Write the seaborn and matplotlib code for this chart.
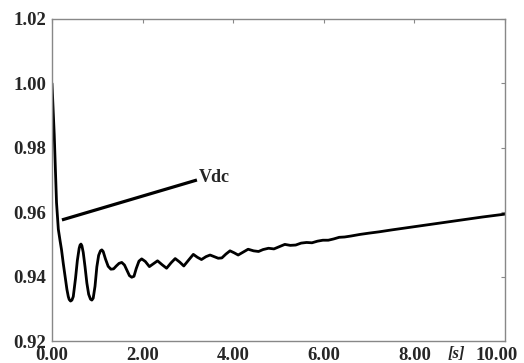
import numpy as np
import pandas as pd
import matplotlib
matplotlib.use("Agg")
import matplotlib.pyplot as plt
import matplotlib.transforms as mtransforms
import seaborn as sns

# Vdc response (time in s, per-unit voltage)
time_s = [0.00, 0.05, 0.10, 0.14, 0.18, 0.21, 0.25, 0.29, 0.33, 0.36,
          0.38, 0.41, 0.44, 0.47, 0.52, 0.56, 0.60, 0.62, 0.64, 0.66,
          0.69, 0.73, 0.77, 0.81, 0.85, 0.88, 0.91, 0.95, 0.99, 1.03,
          1.07, 1.10, 1.13, 1.18, 1.24, 1.30, 1.36, 1.42, 1.48, 1.54,
          1.60, 1.66, 1.71, 1.76, 1.81, 1.86, 1.92, 1.98, 2.06, 2.15,
          2.24, 2.33, 2.43, 2.53, 2.63, 2.72, 2.82, 2.91, 3.02, 3.12,
          3.21, 3.30, 3.40, 3.49, 3.58, 3.67, 3.75, 3.84, 3.93, 4.02,
          4.11, 4.22, 4.33, 4.45, 4.56, 4.66, 4.78, 4.90, 5.02, 5.14,
          5.26, 5.38, 5.50, 5.62, 5.74, 5.86, 5.98, 6.10, 6.22, 6.34,
          6.46, 6.60, 6.80, 7.00, 7.22, 7.50, 7.75, 7.95, 8.30, 8.70,
          9.05, 9.50, 10.00]
vdc = [1.0000, 0.9840, 0.9630, 0.9547, 0.9510, 0.9484, 0.9440, 0.9400, 0.9360, 0.9338,
       0.9329, 0.9324, 0.9327, 0.9338, 0.9395, 0.9450, 0.9488, 0.9498, 0.9501, 0.9496,
       0.9475, 0.9430, 0.9380, 0.9345, 0.9330, 0.9327, 0.9333, 0.9370, 0.9430, 0.9466,
       0.9480, 0.9483, 0.9478, 0.9455, 0.9432, 0.9423, 0.9424, 0.9433, 0.9441, 0.9444,
       0.9436, 0.9418, 0.9403, 0.9398, 0.9401, 0.9425, 0.9448, 0.9455, 0.9447, 0.9431,
       0.9440, 0.9449, 0.9437, 0.9426, 0.9443, 0.9456, 0.9445, 0.9433, 0.9452, 0.9469,
       0.9460, 0.9453, 0.9462, 0.9467, 0.9462, 0.9457, 0.9458, 0.9470, 0.9480, 0.9474,
       0.9467, 0.9476, 0.9485, 0.9480, 0.9478, 0.9484, 0.9488, 0.9486, 0.9493, 0.9500,
       0.9497, 0.9498, 0.9504, 0.9506, 0.9505, 0.9510, 0.9513, 0.9513, 0.9517, 0.9522,
       0.9523, 0.9526, 0.9531, 0.9535, 0.9539, 0.9545, 0.9550, 0.9554, 0.9561, 0.9569,
       0.9576, 0.9585, 0.9594]

# label pointer line
pointer_t = [0.22, 3.20]
pointer_v = [0.9576, 0.9700]

x_ticks = [0, 2, 4, 6, 8, 10]
y_ticks = [0.92, 0.94, 0.96, 0.98, 1.00, 1.02]

sns.set_style("white")
plt.rcParams['font.family'] = ['Liberation Serif', 'DejaVu Serif']

df = pd.DataFrame({"t": time_s, "vdc": vdc})

fig = plt.figure(figsize=(5.24, 3.63), dpi=100)
ax = fig.add_axes([0.0992, 0.0606, 0.8645, 0.8871])

sns.lineplot(data=df, x="t", y="vdc", ax=ax, color="black", linewidth=2.0,
             solid_joinstyle="round", solid_capstyle="round")
ax.plot(pointer_t, pointer_v, color="black", linewidth=2.3, solid_capstyle="butt")
ax.text(3.25, 0.9709, "Vdc", fontsize=13, fontweight="bold", va="center", ha="left")

ax.set_xlim(0, 10)
ax.set_ylim(0.92, 1.02)
ax.set_xticks(x_ticks)
ax.set_xticklabels([f"{v:.2f}" for v in x_ticks])
ax.set_yticks(y_ticks)
ax.set_yticklabels([f"{v:.2f}" for v in y_ticks])
ax.set_xlabel("")
ax.set_ylabel("")

ax.tick_params(direction="in", length=3, width=0.8, color="#888888",
               top=True, right=True, labelsize=13.5, pad=4)
for lbl in ax.get_xticklabels() + ax.get_yticklabels():
    lbl.set_fontweight("bold")

# last x label sits a little left so it stays inside the canvas
last = ax.get_xticklabels()[-1]
last.set_transform(last.get_transform() +
                   mtransforms.ScaledTranslation(-6 / 72, 0, fig.dpi_scale_trans))

for sp in ax.spines.values():
    sp.set_color("#888888")
    sp.set_linewidth(1.0)

ax.annotate("[s]", xy=(0.892, 0), xycoords="axes fraction", xytext=(0, -9.5),
            textcoords="offset points", ha="center", va="center",
            fontsize=12, fontweight="bold", fontstyle="italic")

fig.savefig("out.png", dpi=100)
